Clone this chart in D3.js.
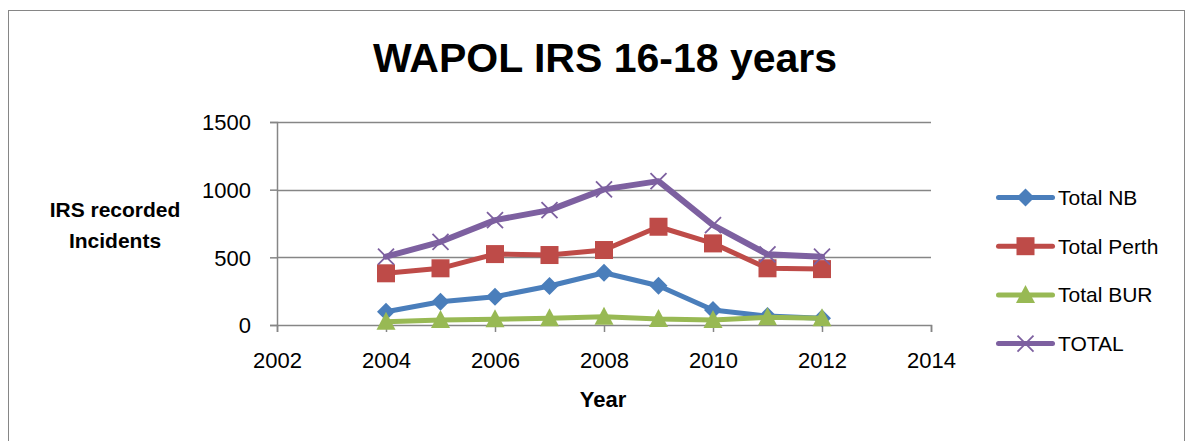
<!DOCTYPE html>
<html>
<head>
<meta charset="utf-8">
<script src="https://cdn.jsdelivr.net/npm/d3@7"></script>
<style>
  body { margin: 0; background: #fff; }
  text { font-family: "Liberation Sans", Arial, sans-serif; }
</style>
</head>
<body>
<div id="chart"></div>
<script>
// data
const years = [2004, 2005, 2006, 2007, 2008, 2009, 2010, 2011, 2012];
const totalNB = [98, 172, 209, 288, 386, 290, 111, 66, 49];
const totalPerth = [382, 419, 524, 517, 554, 726, 603, 419, 413];
const totalBUR = [24, 37, 42, 49, 61, 44, 37, 57, 49];
const totalAll = [505, 615, 775, 849, 1002, 1063, 738, 522, 505];
const xTicks = [2002, 2004, 2006, 2008, 2010, 2012, 2014];
const yTicks = [0, 500, 1000, 1500];

const series = [
    { name: 'Total NB', values: totalNB, color: '#4a7ebb', marker: 'diamond' },
    { name: 'Total Perth', values: totalPerth, color: '#be4b48', marker: 'square' },
    { name: 'Total BUR', values: totalBUR, color: '#98b954', marker: 'triangle' },
    { name: 'TOTAL', values: totalAll, color: '#7d60a0', marker: 'cross' }
];

const width = 1192, height = 441;
const svg = d3.select('#chart').append('svg')
    .attr('width', width)
    .attr('height', height);

// chart border
svg.append('rect')
    .attr('x', 8.5).attr('y', 10.5)
    .attr('width', 1176).attr('height', 440)
    .attr('fill', 'none')
    .attr('stroke', '#868686');

const x = d3.scaleLinear().domain([2002, 2014]).range([277, 931]);
const y = d3.scaleLinear().domain([0, 1500]).range([325, 122]);

// gridlines
svg.append('g')
    .selectAll('line')
    .data(yTicks.slice(1))
    .join('line')
    .attr('x1', x(2002)).attr('x2', x(2014))
    .attr('y1', d => Math.round(y(d)) + 0.5)
    .attr('y2', d => Math.round(y(d)) + 0.5)
    .attr('stroke', '#868686')
    .attr('stroke-width', 1.5);

// axes
const yAxis = svg.append('g')
    .attr('transform', `translate(${x(2002)},0)`)
    .call(d3.axisLeft(y).tickValues(yTicks).tickFormat(d3.format('d')).tickSize(7).tickPadding(19));
const xAxis = svg.append('g')
    .attr('transform', `translate(0,${y(0)})`)
    .call(d3.axisBottom(x).tickValues(xTicks).tickFormat(d3.format('d')).tickSize(7).tickPadding(20));

[xAxis, yAxis].forEach(g => {
    g.select('.domain').attr('stroke', '#868686').attr('stroke-width', 1.5);
    g.selectAll('.tick line').attr('stroke', '#868686').attr('stroke-width', 1.5);
    g.selectAll('.tick text').attr('font-size', 22).attr('fill', '#000')
        .style('font-family', '"Liberation Sans", Arial, sans-serif');
});
yAxis.selectAll('.tick text').attr('dy', '0.35em');

// titles
svg.append('text')
    .attr('x', 605).attr('y', 72)
    .attr('text-anchor', 'middle')
    .attr('font-size', 41)
    .attr('font-weight', 'bold')
    .text('WAPOL IRS 16-18 years');

svg.append('text')
    .attr('x', 603).attr('y', 407)
    .attr('text-anchor', 'middle')
    .attr('font-size', 22)
    .attr('font-weight', 'bold')
    .text('Year');

const yTitle = svg.append('text')
    .attr('text-anchor', 'middle')
    .attr('font-size', 21)
    .attr('font-weight', 'bold');
yTitle.append('tspan').attr('x', 115).attr('y', 217).text('IRS recorded');
yTitle.append('tspan').attr('x', 115).attr('y', 248).text('Incidents');

// marker drawing
function drawMarker(sel, type, color) {
    if (type === 'diamond') {
        sel.append('path').attr('d', 'M0,-9L9,0L0,9L-9,0Z').attr('fill', color);
    } else if (type === 'square') {
        sel.append('rect').attr('x', -9).attr('y', -9).attr('width', 18).attr('height', 18).attr('fill', color);
    } else if (type === 'triangle') {
        sel.append('path').attr('d', 'M0,-10L9.5,8L-9.5,8Z').attr('fill', color);
    } else {
        sel.append('path').attr('d', 'M-8,-8L8,8M-8,8L8,-8')
            .attr('stroke', color).attr('stroke-width', 1.8).attr('fill', 'none');
    }
}

const line = d3.line()
    .x(d => x(d[0]))
    .y(d => y(d[1]));

series.forEach(s => {
    const pts = years.map((yr, i) => [yr, s.values[i]]);
    const g = svg.append('g');
    g.append('path')
        .datum(pts)
        .attr('d', line)
        .attr('fill', 'none')
        .attr('stroke', s.color)
        .attr('stroke-width', s.marker === 'cross' ? 6 : 5)
        .attr('stroke-linejoin', 'round')
        .attr('stroke-linecap', 'round');
    g.selectAll('.m')
        .data(pts)
        .join('g')
        .attr('class', 'm')
        .attr('transform', d => `translate(${x(d[0])},${y(d[1])})`)
        .each(function () { drawMarker(d3.select(this), s.marker, s.color); });
});

// legend
const legend = svg.append('g');
series.forEach((s, i) => {
    const ly = 197.5 + i * 48.7;
    const row = legend.append('g').attr('transform', `translate(1025.5,${ly})`);
    row.append('line')
        .attr('x1', -27).attr('x2', 27)
        .attr('stroke', s.color)
        .attr('stroke-width', 5)
        .attr('stroke-linecap', 'round');
    drawMarker(row, s.marker, s.color);
    row.append('text')
        .attr('x', 32.5).attr('dy', '0.35em')
        .attr('font-size', 21)
        .text(s.name);
});
</script>
</body>
</html>
